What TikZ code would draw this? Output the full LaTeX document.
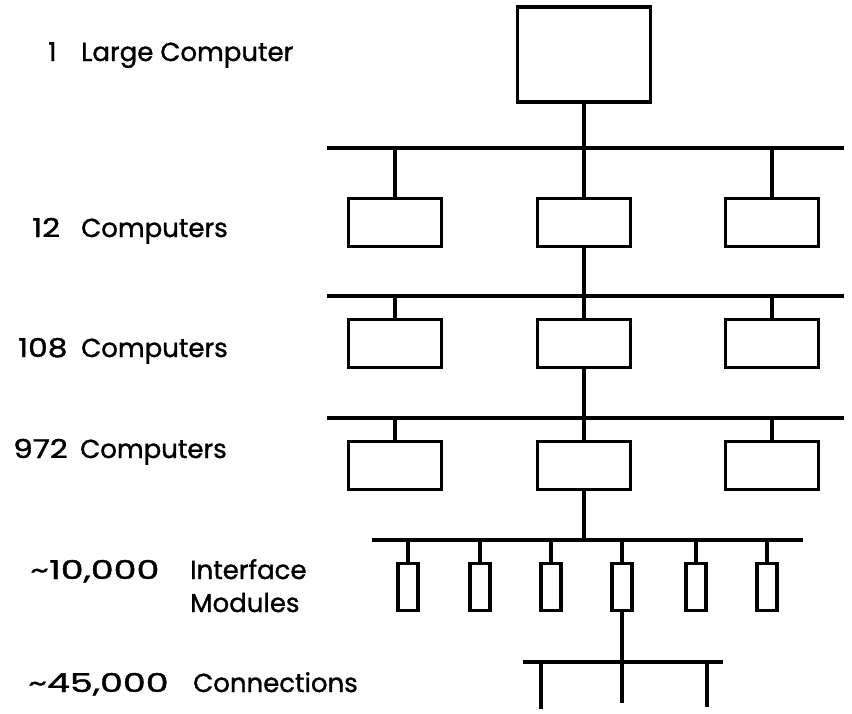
\documentclass[tikz,border=0pt]{standalone}
\usepackage{fontspec}
\setmainfont{Poppins}
\newcommand{\numw}[2]{\scalebox{#1}[1]{#2}}
\begin{document}
\begin{tikzpicture}[x=1pt,y=-1pt,
  box/.style={draw, line width=3.4pt, inner sep=0pt, minimum width=93pt, minimum height=48pt},
  modbox/.style={draw, line width=3.2pt, inner sep=0pt, minimum width=20pt, minimum height=47pt},
  wire/.style={line width=3.4pt},
  lbl/.style={anchor=base west, inner sep=0pt, font=\fontsize{26}{30}\selectfont\addfontfeature{FakeBold=1.2}}]
\useasboundingbox (0,0) rectangle (852,713);

% top computer
\node[box, minimum width=133pt, minimum height=95pt] (top) at (584,54.5) {};

% buses
\coordinate (b1l) at (327,148); \coordinate (b1r) at (844,148);
\coordinate (b2l) at (327,296); \coordinate (b2r) at (844,296);
\coordinate (b3l) at (327,418); \coordinate (b3r) at (844,418);
\coordinate (b4l) at (372,540); \coordinate (b4r) at (803,540);
\coordinate (b5l) at (523,662); \coordinate (b5r) at (723,662);

% level boxes
\node[box] (a1) at (395,222.5) {};
\node[box] (a2) at (584,222.5) {};
\node[box] (a3) at (772,222.5) {};
\node[box] (m1) at (395,343.5) {};
\node[box] (m2) at (584,343.5) {};
\node[box] (m3) at (772,343.5) {};
\node[box] (n1) at (395,465.5) {};
\node[box] (n2) at (584,465.5) {};
\node[box] (n3) at (772,465.5) {};

% interface modules
\node[modbox] (i1) at (408,587) {};
\node[modbox] (i2) at (480,587) {};
\node[modbox] (i3) at (551,587) {};
\node[modbox] (i4) at (622,587) {};
\node[modbox] (i5) at (696,587) {};
\node[modbox] (i6) at (767,587) {};

% connection ends
\coordinate (t1) at (541,709);
\coordinate (t2) at (622,703);
\coordinate (t3) at (707,707);

% wiring
\draw[wire] (b1l) -- (b1r);
\draw[wire] (b2l) -- (b2r);
\draw[wire] (b3l) -- (b3r);
\draw[wire] (b4l) -- (b4r);
\draw[wire] (b5l) -- (b5r);
\draw[wire] (top.south) -- (top.south |- b1l);
\foreach \n in {a1,a2,a3} \draw[wire] (\n.north) -- (\n.north |- b1l);
\draw[wire] (a2.south) -- (a2.south |- b2l);
\foreach \n in {m1,m2,m3} \draw[wire] (\n.north) -- (\n.north |- b2l);
\draw[wire] (m2.south) -- (m2.south |- b3l);
\foreach \n in {n1,n2,n3} \draw[wire] (\n.north) -- (\n.north |- b3l);
\draw[wire] (n2.south) -- (n2.south |- b4l);
\foreach \n in {i1,i2,i3,i4,i5,i6} \draw[wire] (\n.north) -- (\n.north |- b4l);
\draw[wire] (i4.south) -- (i4.south |- b5l);
\draw[wire] (t1 |- b5l) -- (t1);
\draw[wire] (t2 |- b5l) -- (t2);
\draw[wire] (t3 |- b5l) -- (t3);

% labels
\node[lbl] (n1a) at (48,61) {1};
\node[lbl] (w1a) at (81,61) {Large Computer};
\node[lbl] (n2a) at (32,237) {\numw{1.2}{12}};
\node[lbl] (w2a) at (81,237) {Computers};
\node[lbl] (n3a) at (18,357) {\numw{1.2}{108}};
\node[lbl] (w3a) at (81,357) {Computers};
\node[lbl] (n4a) at (13,458) {\numw{1.2}{972}};
\node[lbl] (w4a) at (80,458) {Computers};
\node[lbl] (n5a) at (30,579) {\numw{1.4}{\textasciitilde10,000}};
\node[lbl] (w5a) at (190,579) {Interface};
\node[lbl] (w5b) at (190,612) {Modules};
\node[lbl] (n6a) at (28,692) {\numw{1.4}{\textasciitilde45,000}};
\node[lbl] (w6a) at (193,692) {Connections};
\end{tikzpicture}
\end{document}
